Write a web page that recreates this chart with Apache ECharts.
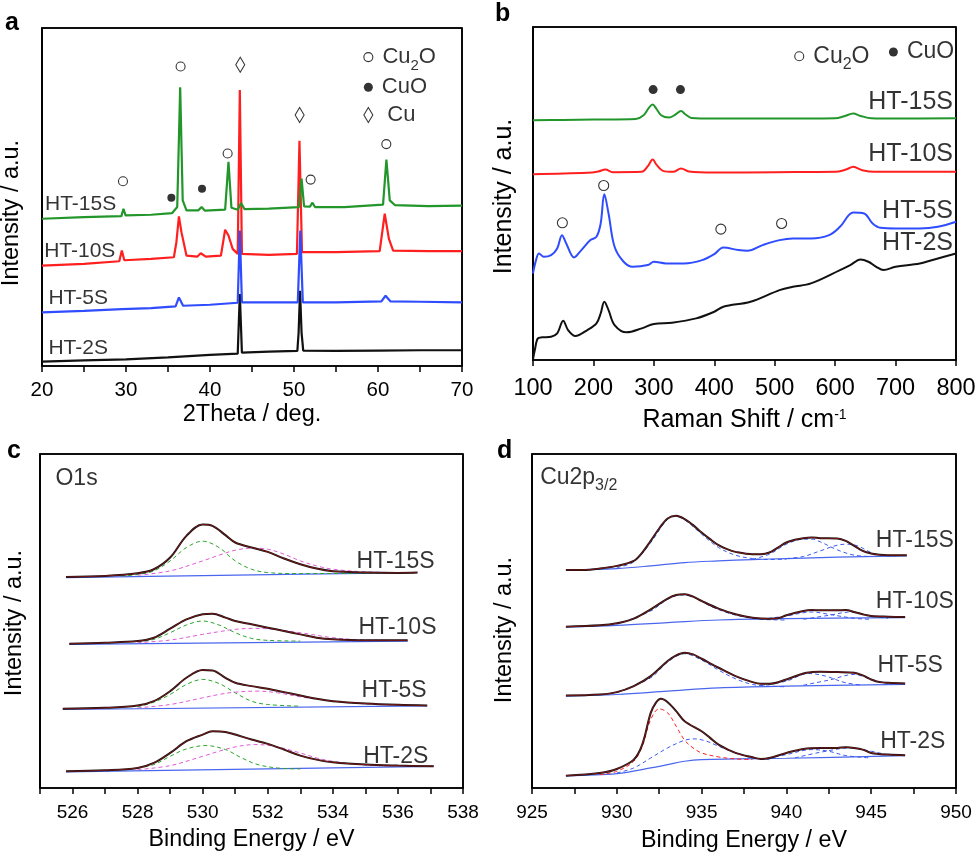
<!DOCTYPE html>
<html><head><meta charset="utf-8">
<script src="https://cdn.jsdelivr.net/npm/echarts@6/dist/echarts.min.js"></script>
<style>html,body{margin:0;padding:0;background:#fff}#c{width:980px;height:858px}</style>
</head><body><div id="c"></div>
<script>
// ---------- Panel a: XRD (2Theta, a.u. with offsets) ----------
const xrd2S = [[20,1.3],[25,1.7],[30,2.0],[35,2.6],[40,3.3],[43.3,3.7],[43.55,21.5],[43.8,4.0],[47,4.3],[50.4,4.5],[50.55,10],[50.72,22.5],[50.9,10],[51.1,4.6],[55,4.5],[60,4.6],[65,4.7],[70,4.7]];
const xrd5S = [[20,16.0],[25,16.5],[29.5,17.0],[33,17.3],[35.9,17.8],[36.3,20.5],[36.8,18.0],[40,18.3],[43.3,18.9],[43.55,40.5],[43.8,19.0],[47,19.0],[50.45,19.0],[50.75,40.5],[51.05,19.0],[55,19.0],[60.4,19.3],[60.9,21.0],[61.5,19.3],[65,19.2],[70,19.0]];
const xrd10S = [[20,30.0],[25,30.5],[29.2,31.3],[29.5,34.5],[29.8,31.6],[33,32.0],[35.7,32.5],[36.0,37.0],[36.3,44.7],[36.6,40.0],[37.2,33.0],[38.5,32.7],[38.9,33.7],[39.5,32.7],[41.3,33.0],[41.8,40.7],[42.2,39.0],[42.7,35.0],[43.3,33.5],[43.55,82.5],[43.8,33.5],[47,33.2],[50.35,33.5],[50.65,67.3],[50.95,34.0],[55,34.0],[60.2,34.3],[60.8,45.5],[61.3,38.0],[61.8,34.5],[66,34.3],[70,34.3]];
const xrd15S = [[20,44.0],[25,44.5],[29.45,44.8],[29.7,47.0],[29.95,45.0],[33,45.2],[35.5,45.7],[36.1,47.5],[36.45,83.3],[36.75,49.5],[37.2,46.5],[38.6,46.5],[39.0,47.5],[39.4,46.4],[41.8,46.7],[42.2,61.0],[42.55,47.3],[43.3,46.7],[43.7,48.7],[44.1,46.9],[47,47.0],[50.6,47.5],[50.9,56.0],[51.2,47.7],[51.9,47.6],[52.2,48.8],[52.5,47.5],[56,47.5],[60.6,48.2],[61.0,61.7],[61.4,49.5],[62,48.1],[66,47.8],[70,47.9]];
const xrdCu2OMarks = [[29.64,55.2],[36.5,89.5],[42.1,63.5],[51.98,55.7],[60.99,66.3]];
const xrdCuOMarks = [[35.4,50.3],[39.05,53.0]];
const xrdCuMarks = [[43.6,90.0],[50.67,75.0]];
const xrdLabels = [['HT-15S',20.3,48.3],['HT-10S',20.2,34.3],['HT-5S',20.7,20.2],['HT-2S',20.7,5.3]];
const xrdLegend = [['Cu2O',58.85,92.3,'circle'],['CuO',58.85,83.3,'dot'],['Cu',58.85,75.0,'diamond']];

// ---------- Panel b: Raman ----------
const raman2S = [[100,0.2],[103,3.0],[108,6.5],[115,6.8],[130,7.0],[140,8.0],[150,11.8],[158,9.0],[170,7.2],[190,9.0],[205,11.0],[212,14.0],[218,17.5],[225,15.0],[235,10.5],[255,8.3],[280,9.5],[300,10.8],[330,11.2],[370,12.5],[400,14.5],[415,16.0],[460,17.5],[508,21.0],[530,22.0],[560,23.0],[608,27.0],[625,28.5],[642,30.2],[655,29.5],[668,28.0],[680,27.0],[700,28.0],[740,29.0],[770,30.5],[800,32.0]];
const raman5S = [[100,26.0],[105,30.0],[110,32.0],[118,31.0],[130,31.5],[140,33.5],[148,37.5],[155,35.0],[168,30.8],[180,33.0],[195,36.0],[205,37.0],[212,41.0],[218,49.8],[225,44.0],[235,34.0],[250,29.5],[265,28.0],[290,28.5],[300,29.5],[320,29.0],[350,29.0],[380,30.0],[400,31.8],[415,33.8],[440,33.0],[455,32.8],[480,34.5],[508,36.0],[530,36.5],[560,36.5],[590,37.5],[608,40.0],[630,44.3],[648,44.0],[662,41.0],[675,39.7],[700,39.5],[740,39.5],[770,40.0],[800,41.5]];
const raman10S = [[100,55.8],[190,56.2],[208,56.6],[220,57.2],[232,56.4],[280,56.5],[290,58.2],[298,60.2],[305,58.5],[315,56.8],[332,56.5],[345,57.5],[358,56.6],[400,56.3],[500,56.4],[600,56.5],[618,57.2],[630,58.0],[645,57.0],[665,56.5],[800,56.5]];
const raman15S = [[100,72.0],[150,72.1],[200,72.2],[270,72.4],[283,73.5],[292,75.8],[298,76.7],[304,75.5],[312,73.5],[325,72.8],[335,73.6],[345,74.8],[352,73.8],[362,72.7],[400,72.5],[500,72.5],[600,72.6],[615,73.2],[630,74.0],[642,73.3],[660,72.6],[700,72.5],[800,72.6]];
const ramanCu2OMarks = [[148.6,41.2],[217,52.4],[410.9,39.3],[511.4,41.0]];
const ramanCuOMarks = [[298.8,81.2],[344,81.2]];
const ramanLabels = [['HT-15S',795.8,77.5],['HT-10S',795.8,61.7],['HT-5S',795.8,44.7],['HT-2S',795.8,35.0]];
const ramanLegend = [['Cu2O',540.6,91.2,'circle'],['CuO',696.4,92.5,'dot']];

// ---------- Panel c: XPS O1s ----------
const o1s15S = [[525.8,63.2],[527,63.5],[528,64.3],[528.5,65.5],[529,69.0],[529.5,75.5],[530,78.9],[530.3,78.5],[530.7,75.7],[531,73.5],[531.5,72.0],[532,70.7],[532.5,68.7],[533,67.0],[533.5,65.7],[534,64.9],[534.5,64.7],[535,64.5],[536,64.4],[536.6,64.5]];
const o1s15Sg = [[527.5,63.5],[528,63.9],[528.5,65.0],[529,68.0],[529.5,72.0],[530,73.9],[530.5,72.0],[531,68.0],[531.5,65.5],[532,64.5],[533,64.2],[536.5,64.4]];
const o1s15Sm = [[528,63.7],[529,65.0],[530,68.0],[530.5,69.7],[531,71.2],[531.5,71.8],[532,71.5],[532.5,70.0],[533,68.0],[533.5,66.5],[534,65.5],[535,64.7],[536,64.5]];
const o1s15Sb = [[525.8,63.0],[530,63.6],[536.6,64.5]];
const o1s10S = [[525.9,43.2],[527,43.5],[528,44.0],[528.5,45.0],[529,47.7],[529.5,50.5],[530,52.0],[530.3,52.2],[530.7,51.0],[531,50.0],[531.5,49.0],[532,48.0],[532.5,47.0],[533,46.0],[533.5,45.0],[534,44.5],[535,44.2],[536.3,44.2]];
const o1s10Sg = [[528,43.7],[528.5,44.5],[529,46.5],[529.5,48.8],[530,50.0],[530.5,48.8],[531,46.5],[531.5,44.8],[532,44.2],[533,44.0]];
const o1s10Sm = [[528,43.5],[529,44.3],[530,46.0],[530.5,46.8],[531,47.5],[531.6,47.8],[532.2,47.5],[533,46.5],[534,45.0],[535,44.3],[536,44.2]];
const o1s10Sb = [[525.9,43.0],[536.3,44.0]];
const o1s5S = [[525.7,23.7],[527,24.0],[528,24.7],[528.5,26.0],[529,29.0],[529.5,33.0],[530,35.3],[530.3,35.2],[530.7,33.0],[531,31.5],[531.5,30.5],[532,29.7],[532.5,28.7],[533,27.7],[533.5,26.7],[534,26.0],[535,25.3],[536,24.9],[536.9,24.7]];
const o1s5Sg = [[528,24.3],[528.5,25.7],[529,28.0],[529.5,31.0],[530,32.5],[530.5,31.3],[531,28.5],[531.5,26.0],[532,25.0],[533,24.5]];
const o1s5Sm = [[528,24.0],[529,25.0],[530,27.0],[530.5,28.0],[531,28.7],[531.7,29.0],[532.3,28.5],[533,27.3],[534,26.0],[535,25.2],[536,24.8]];
const o1s5Sb = [[525.7,23.5],[536.9,24.6]];
const o1s2S = [[525.8,5.0],[527,5.3],[528,6.0],[528.5,7.5],[529,10.5],[529.5,14.0],[530,16.0],[530.3,17.0],[530.7,16.8],[531,16.0],[531.5,14.5],[532,13.2],[532.5,11.5],[533,9.7],[533.5,8.5],[534,7.7],[535,7.0],[536,6.7],[537.1,6.5]];
const o1s2Sg = [[528,6.0],[528.5,7.0],[529,9.5],[529.5,11.7],[530.1,12.7],[530.7,11.5],[531.2,9.0],[531.7,7.0],[532.3,6.0],[533,5.7]];
const o1s2Sm = [[528,5.5],[529,6.7],[530,9.5],[530.5,11.0],[531,12.3],[531.6,13.0],[532.2,12.5],[533,10.5],[533.5,9.0],[534,8.0],[535,6.9],[536,6.5]];
const o1s2Sb = [[525.8,4.8],[537.1,6.5]];
const o1sLabels = [['HT-15S',537.14,67.7],['HT-10S',537.2,48.0],['HT-5S',536.9,29.0],['HT-2S',536.95,9.5]];

// ---------- Panel d: XPS Cu2p3/2 ----------
const cu15S = [[927,65.3],[928,65.3],[929,65.7],[930,66.5],[931,68.0],[931.5,70.5],[932,74.0],[932.5,77.7],[933,80.7],[933.5,81.5],[934,80.5],[934.5,78.7],[935,76.5],[935.5,74.5],[936,72.7],[936.5,71.5],[937,70.7],[938,70.0],[938.5,70.0],[939,70.5],[939.5,72.0],[940,73.5],[940.5,74.3],[941,74.8],[941.5,75.0],[942,74.8],[943,74.7],[943.5,74.0],[944,72.5],[944.5,71.0],[945,70.2],[945.5,69.8],[946,69.7],[947.1,69.7]];
const cu15Sc1 = [[930,66.0],[931,67.7],[932,73.5],[933,80.5],[933.5,81.3],[934,80.3],[935,76.0],[936,72.0],[937,69.7],[938,68.7],[939,68.4],[940,68.5]];
const cu15Sc2 = [[938,68.5],[939,70.0],[940,73.0],[941,74.5],[941.5,74.5],[942,73.7],[943,71.3],[944,69.7],[945,69.3]];
const cu15Sc3 = [[940,68.7],[941,69.3],[942,71.0],[943,72.7],[943.6,73.0],[944.2,72.5],[945,70.5],[945.7,69.7],[946.5,69.5]];
const cu15Sb = [[927,65.3],[930,65.7],[932,66.5],[934,67.5],[936,68.0],[938,68.4],[940,68.7],[943,69.1],[947.1,69.5]];
const cu10S = [[927,48.3],[929,48.7],[930,49.3],[931,50.7],[932,53.5],[933,56.7],[933.5,57.8],[934,58.0],[934.5,57.3],[935,56.0],[936,53.7],[937,52.0],[938,51.0],[939,50.7],[939.5,50.8],[940,51.7],[941,53.0],[941.5,53.3],[942,53.2],[943,53.2],[943.5,53.3],[944,52.7],[944.5,52.0],[945,51.5],[946,51.3],[947,51.2]];
const cu10Sc1 = [[930,49.0],[932,53.0],[933,56.5],[933.8,57.8],[934.5,57.2],[935.5,54.5],[936.5,52.5],[937.5,51.2],[938.5,50.5],[940,50.3]];
const cu10Sc2 = [[938.5,50.5],[940,51.5],[941.5,52.7],[942.5,52.0],[944,50.8],[945,50.5]];
const cu10Sc3 = [[941,50.5],[942.5,51.7],[943.8,52.7],[945,51.5],[946,50.8]];
const cu10Sb = [[927,48.2],[930,48.7],[933,49.5],[936,50.3],[940,50.7],[947,51.0]];
const cu5S = [[927,27.7],[929,28.0],[930,28.7],[931,30.5],[932,33.5],[933,38.0],[933.5,39.7],[934,40.5],[934.5,40.0],[935,38.7],[936,36.0],[937,33.5],[938,31.7],[938.5,31.2],[939,31.2],[940,32.5],[941,34.3],[941.5,34.7],[942,34.8],[943,34.7],[944,34.5],[944.5,33.7],[945,32.5],[945.5,31.7],[946,31.5],[947,31.3]];
const cu5Sc1 = [[930,28.5],[932,33.0],[933,37.7],[934,40.2],[935,38.3],[936,35.3],[937,32.7],[938,31.0],[939,30.5],[940,30.3]];
const cu5Sc2 = [[938.5,30.7],[940,32.0],[941.3,34.3],[942.3,33.5],[943.5,31.5],[944.5,30.8]];
const cu5Sc3 = [[941,30.8],[942.5,32.3],[944,34.0],[945,32.5],[946,31.3]];
const cu5Sb = [[927,27.5],[930,28.0],[933,29.0],[936,30.0],[940,30.5],[947,31.0]];
const cu2S = [[927,3.7],[929,4.5],[930,5.7],[931,8.5],[931.5,13.0],[932,22.5],[932.3,25.5],[932.6,26.7],[933,25.7],[933.5,23.0],[934,20.0],[935,17.0],[935.5,15.0],[936,13.0],[937,10.5],[938,9.2],[938.5,8.7],[939,9.0],[940,10.5],[941,11.7],[942,12.0],[943,12.0],[943.5,12.2],[944,12.0],[944.5,11.5],[945,10.5],[946,10.0],[947,9.8]];
const cu2Sred = [[929,4.0],[930,5.0],[931,8.0],[931.5,12.5],[932,20.5],[932.5,23.7],[933,22.5],[933.5,18.5],[934,14.3],[934.5,12.0],[935,10.5],[936,9.3],[937,8.7],[938,8.5]];
const cu2Sc1 = [[930,4.5],[931,6.0],[932,9.0],[933,12.0],[934,14.3],[934.6,14.7],[935.3,14.0],[936,12.5],[937,10.5],[938,9.0],[939,8.5]];
const cu2Sc2 = [[938.5,8.5],[940,10.0],[941.5,11.5],[942.5,11.0],[943.5,9.7],[945,9.0]];
const cu2Sc3 = [[940.5,9.0],[942,10.7],[943.8,12.0],[945,11.0],[946,10.0],[947,9.7]];
const cu2Sb = [[927,3.7],[930,4.3],[932,6.0],[933,7.0],[934,8.0],[935,8.5],[937,8.7],[940,8.9],[947,9.7]];
const cuLabels = [['HT-15S',949.9,74.0],['HT-10S',949.9,55.7],['HT-5S',949.25,36.5],['HT-2S',949.4,14.0]];

// ---------- builders ----------
const FONT = 'Liberation Sans';
const GREEN = '#22962a', RED = '#ff1f1f', BLUE = '#2f4cff', BLACK = '#111';
const DGREEN = '#2aa52a', MAG = '#e05ad8', DBLUE = '#3b5bf0', LBLUE = '#4a66ee';

function ln(data, color, gi, width, opts) {
  opts = opts || {};
  return {
    type: 'line', data: data, xAxisIndex: gi, yAxisIndex: gi,
    symbol: 'none', showSymbol: false, silent: true, animation: false,
    lineStyle: { color: color, width: width, type: opts.dash ? [4, 3] : 'solid', opacity: opts.opacity == null ? 1 : opts.opacity },
    smooth: opts.smooth || false, z: opts.z || 2, clip: opts.clip == null ? true : opts.clip
  };
}
function marks(data, gi, kind, size) {
  const filled = kind === 'dot';
  return {
    type: 'scatter', data: data, xAxisIndex: gi, yAxisIndex: gi, silent: true, animation: false,
    symbol: kind === 'diamond' ? 'diamond' : 'circle', symbolSize: size,
    itemStyle: { color: filled ? '#000' : '#fff', borderColor: '#000', borderWidth: filled ? 0 : 1.1 }, z: 6
  };
}
const RICH = (fs) => ({
  m: { fontSize: fs, fontFamily: FONT, color: '#000', lineHeight: fs + 10 },
  sub: { fontSize: Math.round(fs * 0.68), fontFamily: FONT, color: '#000', verticalAlign: 'bottom', lineHeight: Math.round(fs * 0.68) }
});
function fmtChem(t) {
  if (t === 'Cu2O') return '{m|Cu}{sub|2}{m|O}';
  if (t === 'Cu2p3/2') return '{m|Cu2p}{sub|3/2}';
  return '{m|' + t + '}';
}
function texts(items, gi, pos, fs) {
  return {
    type: 'scatter', xAxisIndex: gi, yAxisIndex: gi, silent: true, animation: false,
    symbolSize: 1, itemStyle: { color: 'rgba(0,0,0,0)' }, z: 7,
    data: items.map(d => ({ value: [d[1], d[2]], name: d[0] })),
    label: { show: true, position: pos, distance: 0, formatter: p => fmtChem(p.name), rich: RICH(fs) }
  };
}
function legendSeries(items, gi, fs, dist) {
  return items.map(d => {
    const kind = d[3];
    return {
      type: 'scatter', xAxisIndex: gi, yAxisIndex: gi, silent: true, animation: false,
      symbol: kind === 'diamond' ? 'diamond' : 'circle',
      symbolSize: kind === 'diamond' ? [9, 15] : 9,
      itemStyle: { color: kind === 'dot' ? '#000' : '#fff', borderColor: '#000', borderWidth: kind === 'dot' ? 0 : 1.1 },
      data: [{ value: [d[1], d[2]], name: d[0] }], z: 7,
      label: { show: true, position: 'right', distance: dist + (kind === 'diamond' ? 5 : 0), formatter: p => fmtChem(p.name), rich: RICH(fs) }
    };
  });
}

const gridBoxes = [
  { left: 42, top: 28, width: 420, height: 338 },
  { left: 533, top: 27, width: 423, height: 333 },
  { left: 40, top: 454, width: 423, height: 334 },
  { left: 532, top: 454, width: 424, height: 334 }
];
const grids = gridBoxes.map(g => Object.assign({}, g, { show: true, borderColor: '#000', borderWidth: 1.6, backgroundColor: 'rgba(0,0,0,0)', containLabel: false, outerBoundsMode: 'none' }));
const ranges = [[20, 70], [100, 800], [525, 538], [925, 950]];
const yMax = [101, 100, 100, 100];

function xAx(gi, interval, fmt, fs, margin, name, nameFs, nameGap, rich) {
  return {
    type: 'value', gridIndex: gi, min: ranges[gi][0], max: ranges[gi][1], interval: interval,
    axisLine: { show: true, onZero: false, lineStyle: { color: '#000', width: 1.6 } },
    axisTick: { show: true, inside: false, length: 6, lineStyle: { color: '#000', width: 1.5 } },
    splitLine: { show: false },
    axisLabel: { show: true, margin: margin, fontSize: fs, fontFamily: FONT, color: '#000', formatter: fmt },
    name: name, nameLocation: 'middle', nameGap: nameGap,
    nameTextStyle: { fontSize: nameFs, fontFamily: FONT, color: '#000', rich: rich }
  };
}
function yAx(gi, nameFs, nameGap, pad) {
  return {
    type: 'value', gridIndex: gi, min: 0, max: yMax[gi],
    axisLine: { show: true, onZero: false, lineStyle: { color: '#000', width: 1.6 } },
    axisTick: { show: false }, axisLabel: { show: false }, splitLine: { show: false },
    name: 'Intensity / a.u.', nameLocation: 'middle', nameRotate: 90, nameGap: nameGap,
    nameTextStyle: { fontSize: nameFs, fontFamily: FONT, color: '#000', padding: pad }
  };
}

const series = [];
// plot frame (left, top, right edges) along the axis extents of each panel
ranges.forEach((r, gi) => {
  series.push(ln([[r[0], 0], [r[0], yMax[gi]], [r[1], yMax[gi]], [r[1], 0]], '#000', gi, 1.6, { z: 1, clip: false }));
});
// a
series.push(ln(xrd2S, BLACK, 0, 2.2));
series.push(ln(xrd10S, RED, 0, 2.2));
series.push(ln(xrd5S, BLUE, 0, 2.2));
series.push(ln(xrd15S, GREEN, 0, 2.2));
series.push(marks(xrdCu2OMarks, 0, 'circle', 9));
series.push(marks(xrdCuOMarks, 0, 'dot', 8));
series.push(marks(xrdCuMarks, 0, 'diamond', [9, 15]));
series.push(texts(xrdLabels, 0, 'right', 21));
legendSeries(xrdLegend, 0, 22, 9).forEach(s => series.push(s));
// b
const sm = 0.35;
series.push(ln(raman2S, BLACK, 1, 2, { smooth: sm }));
series.push(ln(raman5S, BLUE, 1, 2, { smooth: sm }));
series.push(ln(raman10S, RED, 1, 2, { smooth: sm }));
series.push(ln(raman15S, GREEN, 1, 2, { smooth: sm }));
series.push(marks(ramanCu2OMarks, 1, 'circle', 10));
series.push(marks(ramanCuOMarks, 1, 'dot', 9));
series.push(texts(ramanLabels, 1, 'left', 25));
legendSeries(ramanLegend, 1, 23, 9).forEach(s => series.push(s));
// c
[[o1s15S, o1s15Sg, o1s15Sm, o1s15Sb], [o1s10S, o1s10Sg, o1s10Sm, o1s10Sb], [o1s5S, o1s5Sg, o1s5Sm, o1s5Sb], [o1s2S, o1s2Sg, o1s2Sm, o1s2Sb]].forEach(g => {
  series.push(ln(g[3], LBLUE, 2, 1.2, { smooth: sm }));
  series.push(ln(g[1], DGREEN, 2, 1, { smooth: sm, dash: true }));
  series.push(ln(g[2], MAG, 2, 1, { smooth: sm, dash: true }));
  series.push(ln(g[0], BLACK, 2, 2, { smooth: sm, z: 3 }));
  series.push(ln(g[0], RED, 2, 1, { smooth: sm, z: 4, opacity: 0.45 }));
});
series.push(texts(o1sLabels, 2, 'left', 23));
series.push(texts([['O1s', 525.46, 92.5]], 2, 'right', 23));
// d
[[cu15S, cu15Sc1, cu15Sc2, cu15Sc3, cu15Sb], [cu10S, cu10Sc1, cu10Sc2, cu10Sc3, cu10Sb], [cu5S, cu5Sc1, cu5Sc2, cu5Sc3, cu5Sb], [cu2S, cu2Sc1, cu2Sc2, cu2Sc3, cu2Sb]].forEach(g => {
  series.push(ln(g[4], LBLUE, 3, 1.2, { smooth: sm }));
  series.push(ln(g[1], DBLUE, 3, 1, { smooth: sm, dash: true }));
  series.push(ln(g[2], DBLUE, 3, 1, { smooth: sm, dash: true }));
  series.push(ln(g[3], DBLUE, 3, 1, { smooth: sm, dash: true }));
  series.push(ln(g[0], BLACK, 3, 2, { smooth: sm, z: 3 }));
  series.push(ln(g[0], RED, 3, 1, { smooth: sm, z: 4, opacity: 0.45 }));
});
series.push(ln(cu2Sred, RED, 3, 1, { smooth: sm, dash: true }));
series.push(texts(cuLabels, 3, 'left', 23));
series.push(texts([['Cu2p3/2', 925.45, 93.0]], 3, 'right', 23));

const richName = (fs) => ({ n: { fontSize: fs, fontFamily: FONT, color: '#000' }, sup: { fontSize: Math.round(fs * 0.55), fontFamily: FONT, color: '#000', verticalAlign: 'top', lineHeight: fs * 0.5 } });

const option = {
  animation: false,
  textStyle: { fontFamily: FONT },
  grid: grids,
  xAxis: [
    xAx(0, 5, v => (v % 10 === 0 ? String(v) : ''), 20.5, 14, '2Theta / deg.', 23.5, 37),
    xAx(1, 100, v => String(v), 23.5, 17, '{n|Raman Shift / cm}{sup|-1}', 25, 48, richName(25)),
    xAx(2, 1, v => (v % 2 === 0 ? String(v) : ''), 19, 15, 'Binding Energy / eV', 23.3, 40),
    xAx(3, 2.5, v => (v % 5 === 0 ? String(v) : ''), 19, 15, 'Binding Energy / eV', 23.3, 41)
  ],
  yAxis: [
    yAx(0, 23.5, 18, [0, 32, 0, 0]),
    yAx(1, 25, 16, [0, 6, 0, 0]),
    yAx(2, 23.5, 13, [0, 4, 0, 0]),
    yAx(3, 23.5, 15, [0, 18, 0, 0])
  ],
  graphic: [
    { type: 'text', x: 5, y: 36, style: { text: 'a', font: 'bold 25px Liberation Sans', fill: '#000', verticalAlign: 'bottom' } },
    { type: 'text', x: 495, y: 27, style: { text: 'b', font: 'bold 25px Liberation Sans', fill: '#000', verticalAlign: 'bottom' } },
    { type: 'text', x: 7, y: 464, style: { text: 'c', font: 'bold 25px Liberation Sans', fill: '#000', verticalAlign: 'bottom' } },
    { type: 'text', x: 497, y: 464, style: { text: 'd', font: 'bold 25px Liberation Sans', fill: '#000', verticalAlign: 'bottom' } }
  ],
  series: series
};
const chart = echarts.init(document.getElementById('c'));
chart.setOption(option);
</script></body></html>
